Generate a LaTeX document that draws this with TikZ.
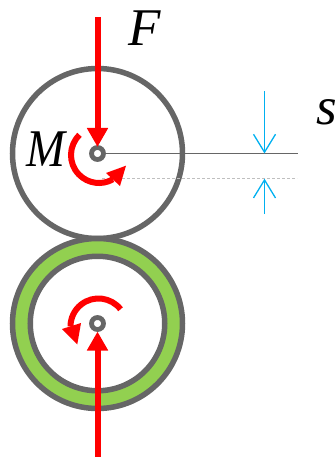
\documentclass[tikz,border=0pt]{standalone}
\usepackage{fontspec}
\setmainfont{Liberation Serif}
\usetikzlibrary{arrows.meta}
\definecolor{mygray}{RGB}{102,102,102}
\definecolor{myred}{RGB}{255,0,0}
\definecolor{mygreen}{RGB}{146,208,80}
\definecolor{myblue}{RGB}{0,176,240}
\tikzset{
    wheel/.style={circle, draw=mygray, line width=5.5pt, minimum size=170pt, inner sep=0pt},
    hub/.style={circle, draw=mygray, fill=white, line width=4.8pt, minimum size=12pt, inner sep=0pt},
    force/.style={draw=myred, line width=6pt, -{Triangle[length=19pt, width=20pt]}},
    moment/.style={draw=myred, line width=6pt},
    gap/.style={draw=myblue, line width=1.3pt, -{Straight Barb[length=18pt, width=22pt]}},
    symbol/.style={anchor=base west, inner sep=0pt, font=\fontsize{53}{53}\selectfont\itshape},
}

\begin{document}
\begin{tikzpicture}[x=1pt, y=1pt]
    \useasboundingbox (0, 0) rectangle (336, -457);
    % rollers
    \node[wheel] (top) at (97.5, -153.5) {};
    \node[wheel, fill=mygreen] (bottom) at (97.5, -323.5) {};
    \node[wheel, fill=white, minimum size=134.5pt] (inner) at (97.5, -323.5) {};
    % reference lines
    \coordinate (solidend) at (298, -153.5);
    \coordinate (dashstart) at (102, -178.7);
    \coordinate (dashend) at (297, -178.7);
    \draw[mygray, line width=1pt] (top.center) -- (solidend);
    \draw[gray!50, line width=1.2pt, densely dashed] (dashstart) -- (dashend);
    % gap
    \coordinate (gaptop) at (264.5, -91);
    \coordinate (gaptip) at (264.5, -153.5);
    \coordinate (gapbottom) at (264.5, -214);
    \coordinate (gapmark) at (264.5, -178.7);
    \draw[gap] (gaptop) -- (gaptip);
    \draw[gap] (gapbottom) -- (gapmark);
    % hubs
    \node[hub] (tophub) at (97.5, -153.5) {};
    \node[hub] (bottomhub) at (97.5, -323.5) {};
    % forces
    \coordinate (ftail) at (97.5, -17);
    \coordinate (ftip) at (97.5, -147);
    \coordinate (rtail) at (97.5, -457);
    \coordinate (rtip) at (97.5, -331.5);
    \draw[force] (ftail) -- (ftip);
    \draw[force] (rtail) -- (rtip);
    % moments
    \draw[moment] (99, -155) ++(134:28pt) arc[start angle=134, end angle=300, radius=28pt];
    \fill[myred] (126, -165.7) -- (106, -173) -- (120, -186) -- cycle;
    \draw[moment] (98.5, -326.5) ++(38:28pt) arc[start angle=38, end angle=180, radius=28pt];
    \fill[myred] (77.3, -344.3) -- (62, -329) -- (81, -323) -- cycle;
    % labels
    \node[symbol] (labelF) at (128, -46) {F};
    \node[symbol, xscale=0.88] (labelM) at (26, -166) {M};
    \node[symbol] (labels) at (316, -125) {s};
\end{tikzpicture}
\end{document}
